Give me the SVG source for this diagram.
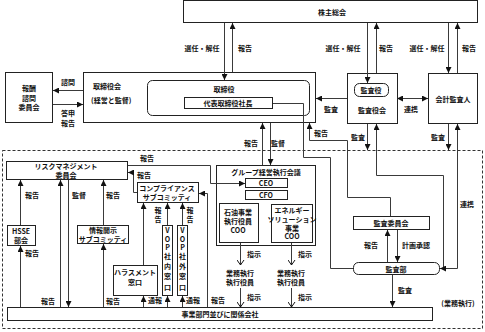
<svg xmlns="http://www.w3.org/2000/svg" width="485" height="332" viewBox="0 0 485 332">
<style>
.b{fill:#fff;stroke:#222;stroke-width:1}
.t{font-family:"Noto Sans CJK JP","Noto Sans",sans-serif;font-size:7px;font-weight:bold;fill:#111;text-anchor:middle;dominant-baseline:central}
.s{text-anchor:start}
.c{fill:none;stroke:#3a3a3a;stroke-width:1}
.a{marker-end:url(#ah)}
.v{marker-end:url(#av)}
</style>
<defs>
<marker id="ah" markerUnits="userSpaceOnUse" markerWidth="6" markerHeight="6" refX="6" refY="3" orient="auto"><path d="M0,0 L6,3 L0,6 z" fill="#111"/></marker>
<marker id="av" markerUnits="userSpaceOnUse" markerWidth="7" markerHeight="8" refX="5.5" refY="4" orient="auto"><path d="M0.5,0.5 L5.5,4 L0.5,7.5" fill="none" stroke="#111" stroke-width="1"/></marker>
</defs>
<rect width="485" height="332" fill="#fff"/>

<g id="business-area"><rect x="2.5" y="150.5" width="480" height="178" fill="none" stroke="#333" stroke-dasharray="3,2"/>
<text class="t" x="458" y="303">(業務執行)</text></g>

<g id="shareholders"><rect class="b" x="183.5" y="0.5" width="294" height="22"/><text class="t" x="332" y="12">株主総会</text></g>

<g id="board"><rect class="b" x="83.5" y="72.5" width="232" height="50"/>
<text class="t s" x="93" y="86">取締役会</text><text class="t s" x="91" y="100">(経営と監督)</text></g>
<g id="directors"><rect class="b" x="147.5" y="80.5" width="162" height="35" rx="5"/><text class="t" x="224" y="89">取締役</text></g>
<g id="president"><rect class="b" x="184.5" y="97.5" width="88" height="11"/><text class="t" x="228" y="103">代表取締役社長</text></g>

<g id="remuneration"><rect class="b" x="5.5" y="72.5" width="47" height="50"/>
<text class="t" x="29" y="88">報酬</text><text class="t" x="29" y="97.5">諮問</text><text class="t" x="29" y="107">委員会</text></g>

<g id="audit-board"><rect class="b" x="347.5" y="73.5" width="50" height="50"/><text class="t" x="372" y="110">監査役会</text></g>
<g id="auditor"><rect class="b" x="354.5" y="83.5" width="34" height="13" rx="5"/><text class="t" x="371" y="90">監査役</text></g>
<g id="accounting-auditor"><rect class="b" x="428.5" y="73.5" width="49" height="50"/><text class="t" x="453" y="99">会計監査人</text></g>

<g id="risk"><rect class="b" x="6.5" y="161.5" width="121" height="18"/><text class="t" x="66" y="166">リスクマネジメント</text><text class="t" x="66" y="175">委員会</text></g>
<g id="compliance"><rect class="b" x="137.5" y="182.5" width="61" height="20"/><text class="t" x="167" y="188">コンプライアンス</text><text class="t" x="167" y="197">サブコミッティ</text></g>
<g id="group-exec"><rect class="b" x="216.5" y="165.5" width="99" height="80"/><text class="t" x="266" y="172">グループ経営執行会議</text></g>
<g id="ceo"><rect class="b" x="245.5" y="178.5" width="42" height="9"/><text class="t" x="266" y="183">CEO</text></g>
<g id="cfo"><rect class="b" x="245.5" y="190.5" width="42" height="9"/><text class="t" x="266" y="195">CFO</text></g>
<g id="oil-coo"><rect class="b" x="219.5" y="203.5" width="39" height="39"/><text class="t" x="238" y="212">石油事業</text><text class="t" x="238" y="221">執行役員</text><text class="t" x="238" y="230">COO</text></g>
<g id="energy-coo"><rect class="b" x="271.5" y="204.5" width="41" height="38"/><text class="t" x="292" y="210">エネルギー</text><text class="t" x="292" y="219">ソリューション</text><text class="t" x="292" y="227.5">事業</text><text class="t" x="292" y="236">COO</text></g>
<g id="hsse"><rect class="b" x="7.5" y="225.5" width="28" height="20"/><text class="t" x="21" y="230.5">HSSE</text><text class="t" x="21" y="240">部会</text></g>
<g id="disclosure"><rect class="b" x="77.5" y="225.5" width="51" height="18"/><text class="t" x="103" y="230">情報開示</text><text class="t" x="103" y="239">サブコミッティ</text></g>
<g id="harassment"><rect class="b" x="113.5" y="265.5" width="44" height="30"/><text class="t" x="135" y="272">ハラスメント</text><text class="t" x="135" y="282">窓口</text></g>
<g id="vop-in"><rect class="b" x="162.5" y="225.5" width="10" height="70"/>
<text class="t" x="167.5" y="230">V</text><text class="t" x="167.5" y="238.5">O</text><text class="t" x="167.5" y="247">P</text><text class="t" x="167.5" y="256">社</text><text class="t" x="167.5" y="265.5">内</text><text class="t" x="167.5" y="276">窓</text><text class="t" x="167.5" y="287">口</text></g>
<g id="vop-out"><rect class="b" x="177.5" y="225.5" width="10" height="70"/>
<text class="t" x="182.5" y="230">V</text><text class="t" x="182.5" y="238.5">O</text><text class="t" x="182.5" y="247">P</text><text class="t" x="182.5" y="256">社</text><text class="t" x="182.5" y="265.5">外</text><text class="t" x="182.5" y="276">窓</text><text class="t" x="182.5" y="287">口</text></g>
<g id="exec-officer-1"><text class="t" x="240" y="273">業務執行</text><text class="t" x="240" y="282">執行役員</text></g>
<g id="exec-officer-2"><text class="t" x="291" y="273">業務執行</text><text class="t" x="291" y="282">執行役員</text></g>
<g id="audit-committee"><rect class="b" x="353.5" y="216.5" width="76" height="13"/><text class="t" x="391" y="223">監査委員会</text></g>
<g id="audit-dept"><rect class="b" x="353.5" y="262.5" width="86" height="12" rx="5"/><text class="t" x="396" y="268.5">監査部</text></g>
<g id="business-units"><rect class="b" x="7.5" y="307.5" width="425" height="13"/><text class="t" x="220" y="314">事業部門並びに関係会社</text></g>

<g id="connectors">
<path class="c a" d="M224.5,23 V80"/>
<path class="c a" d="M232.5,72 V23"/>
<path class="c a" d="M367.5,23 V83"/>
<path class="c a" d="M376.5,73 V23"/>
<path class="c a" d="M448.5,23 V73"/>
<path class="c a" d="M457.5,73 V23"/>
<path class="c a" d="M347,98.5 H316"/>
<path class="c a" d="M412,98.5 H397"/>
<path class="c a" d="M412,98.5 H428"/>
<path class="c a" d="M83,90.5 H53"/>
<path class="c a" d="M53,104.5 H83"/>
<path class="c a" d="M262.5,165 V123"/>
<path class="c a" d="M270.5,123 V165"/>
<path class="c" d="M273,103.5 H303.5 V157.5 H330.5 V268.5 H353"/>
<path class="c a" d="M390.5,216 V197.5 H347.5 V140.5 H309.5 V123"/>
<path class="c a" d="M367.5,124 V150"/>
<path class="c a" d="M448.5,124 V150"/>
<path class="c a" d="M376.5,175.5 V124"/>
<path class="c" d="M376.5,175.5 H443.5 V268.5"/>
<path class="c a" d="M457.5,175 V124"/>
<path class="c a" d="M457.5,175 V268.5 H440"/>
<path class="c a" d="M387.5,262 V230"/>
<path class="c a" d="M397.5,230 V262"/>
<path class="c a" d="M392.5,275 V307"/>
<path class="c a" d="M128,165.5 H210.5 V183.5 H245"/>
<path class="c a" d="M137,192.5 H133.5 V172.5 H128"/>
<path class="c a" d="M207.5,307 V193.5 H199"/>
<path class="c a" d="M143.5,265 V203"/>
<path class="c a" d="M143.5,307 V296"/>
<path class="c a" d="M167.5,225 V203"/>
<path class="c a" d="M167.5,307 V296"/>
<path class="c a" d="M182.5,225 V203"/>
<path class="c a" d="M182.5,307 V296"/>
<path class="c a" d="M20.5,307 V246"/>
<path class="c a" d="M20.5,225 V180"/>
<path class="c a" d="M103.5,307 V244"/>
<path class="c a" d="M103.5,225 V180"/>
<path class="c a" d="M60.5,307 V180"/>
<path class="c a" d="M68.5,180 V307"/>
<path class="c v" d="M240.5,243 V265"/>
<path class="c v" d="M240.5,288 V307"/>
<path class="c v" d="M291.5,243 V265"/>
<path class="c v" d="M291.5,288 V307"/>
</g>

<g id="labels">
<text class="t" x="202" y="48">選任・解任</text><text class="t" x="245" y="48">報告</text>
<text class="t" x="343" y="48">選任・解任</text><text class="t" x="386" y="48">報告</text>
<text class="t" x="427" y="48">選任・解任</text><text class="t" x="469" y="48">報告</text>
<text class="t" x="68" y="82">諮問</text><text class="t" x="68" y="113">答申</text><text class="t" x="68" y="123">報告</text>
<text class="t" x="331" y="109">監査</text><text class="t" x="411" y="109">連携</text>
<text class="t" x="251" y="143">報告</text><text class="t" x="278" y="143">監督</text>
<text class="t" x="321" y="133">報告</text><text class="t" x="358" y="137">監査</text><text class="t" x="438" y="137">監査</text>
<text class="t" x="467" y="204">連携</text>
<text class="t" x="147" y="158">報告</text><text class="t" x="144" y="175">報告</text>
<text class="t" x="32" y="195">報告</text><text class="t" x="79" y="195">監督</text><text class="t" x="113" y="195">報告</text>
<text class="t" x="158" y="209.5">報</text><text class="t" x="158" y="218.5">告</text>
<text class="t" x="190" y="209.5">報</text><text class="t" x="190" y="218.5">告</text>
<text class="t" x="32" y="253">報告</text>
<text class="t" x="48" y="301">報告</text><text class="t" x="113" y="301">報告</text>
<text class="t" x="155" y="300">通報</text><text class="t" x="193" y="300">通報</text><text class="t" x="218" y="300">報告</text>
<text class="t" x="254" y="254">指示</text><text class="t" x="254" y="297">指示</text>
<text class="t" x="305" y="254">指示</text><text class="t" x="305" y="297">指示</text>
<text class="t" x="371" y="245">報告</text><text class="t" x="416" y="245">計画承認</text>
<text class="t" x="405" y="290">監査</text>
</g>
</svg>
